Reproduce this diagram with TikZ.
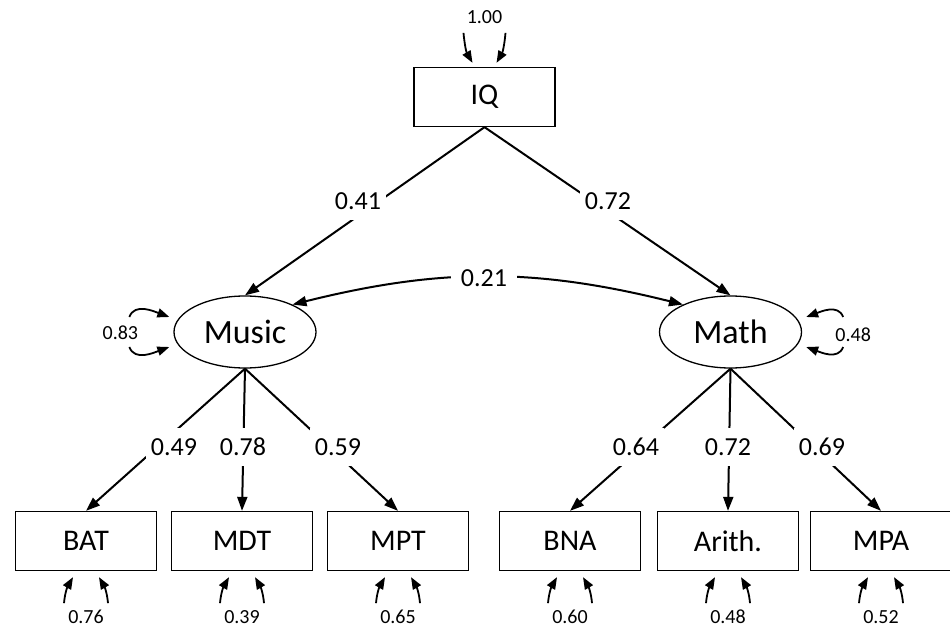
\documentclass[tikz,border=0pt]{standalone}
\usepackage{fontspec}
\setmainfont{Carlito}
\usetikzlibrary{arrows.meta,calc,shapes.geometric}
\begin{document}
\begin{tikzpicture}[x=1pt,y=1pt,
  obs/.style={draw, line width=1.3pt, minimum width=141pt, minimum height=59pt, inner sep=0pt, font=\fontsize{30}{31}\selectfont},
  lat/.style={draw, ellipse, line width=1.3pt, minimum width=142pt, minimum height=72pt, inner sep=0pt, font=\fontsize{34}{36}\selectfont},
  conn/.style={line width=2pt, -{Triangle[length=14pt,width=10pt]}},
  biconn/.style={line width=2pt, {Triangle[length=14pt,width=10pt]}-{Triangle[length=14pt,width=10pt]}},
  resarr/.style={line width=1.8pt, -{Triangle[length=12pt,width=9pt]}},
  coef/.style={fill=white, inner xsep=5pt, inner ysep=10pt, font=\fontsize{26}{28}\selectfont},
  rlab/.style={inner sep=1pt, font=\fontsize{20}{22}\selectfont}]
\useasboundingbox (0,0) rectangle (950,630);

% nodes
\node[obs] (IQ) at (484.5,533) {IQ};
\node[lat] (Music) at (245,298) {Music};
\node[lat] (Math) at (730.5,298) {Math};
\node[obs] (BAT) at (86,89) {BAT};
\node[obs] (MDT) at (242,89) {MDT};
\node[obs] (MPT) at (398,89) {MPT};
\node[obs] (BNA) at (570,89) {BNA};
\node[obs] (Arith) at (728,89) {Arith.};
\node[obs] (MPA) at (881,89) {MPA};

% structural paths
\draw[conn] (IQ.south) -- (Music.north);
\draw[conn] (IQ.south) -- (Math.north);
\foreach \t in {BAT,MDT,MPT} \draw[conn] (Music.south) -- (\t.north);
\foreach \t in {BNA,Arith,MPA} \draw[conn] (Math.south) -- (\t.north);
\draw[biconn] (Music.30) to[bend left=14] (Math.150);

% coefficient labels
\node[coef] (c41) at (358,429) {0.41};
\node[coef] (c72) at (608,429) {0.72};
\node[coef, inner xsep=10pt] (c21) at (484,352) {0.21};
\node[coef] (c49) at (174,183) {0.49};
\node[coef] (c78) at (243,183) {0.78};
\node[coef] (c59) at (338,183) {0.59};
\node[coef] (c64) at (636,183) {0.64};
\node[coef] (c72b) at (728,183) {0.72};
\node[coef] (c69) at (822,183) {0.69};

% IQ variance
\draw[resarr] ($(IQ.north)+(-21,34)$) to[out=-85,in=120] ($(IQ.north)+(-12,4)$);
\draw[resarr] ($(IQ.north)+(21,34)$) to[out=-95,in=60] ($(IQ.north)+(12,4)$);
\node[rlab] (vIQ) at ($(IQ.north)+(0,50)$) {1.00};

% latent residual variances
\draw[resarr] ($(Music.west)+(-44,15)$) to[out=70,in=160] ($(Music.west)+(-4,15)$);
\draw[resarr] ($(Music.west)+(-44,-15)$) to[out=-70,in=-160] ($(Music.west)+(-4,-15)$);
\node[rlab] (vMusic) at ($(Music.west)+(-53,-1)$) {0.83};
\draw[resarr] ($(Math.east)+(41,15)$) to[out=110,in=20] ($(Math.east)+(4,15)$);
\draw[resarr] ($(Math.east)+(41,-15)$) to[out=-110,in=-20] ($(Math.east)+(4,-15)$);
\node[rlab] (vMath) at ($(Math.east)+(51,-3)$) {0.48};

% indicator residuals
\foreach \n/\v in {BAT/0.76,MDT/0.39,MPT/0.65,BNA/0.60,Arith/0.48,MPA/0.52}{
  \draw[resarr] ($(\n.south)+(-22,-32)$) to[out=85,in=-120] ($(\n.south)+(-13,-6)$);
  \draw[resarr] ($(\n.south)+(22,-32)$) to[out=95,in=-60] ($(\n.south)+(13,-6)$);
  \node[rlab] (r\n) at ($(\n.south)+(0,-46)$) {\v};
}
\end{tikzpicture}
\end{document}
